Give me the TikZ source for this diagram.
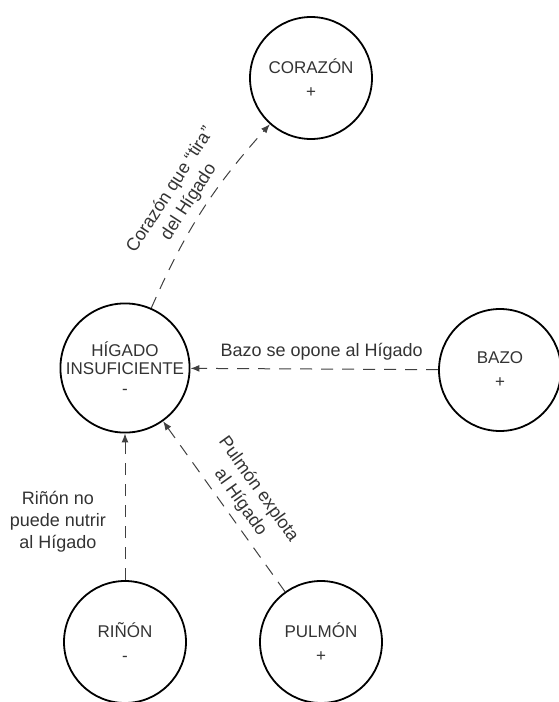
\documentclass[tikz,border=0pt]{standalone}
\usepackage{fontspec}
\setmainfont{Liberation Sans}
\usetikzlibrary{arrows.meta}

\begin{document}
\begin{tikzpicture}[
x=0.5pt, y=0.5pt,
organ/.style={
	circle, draw, line width=0.9pt,
	minimum size=61pt, inner sep=0pt,
	align=center, text=black!80,
	font=\fontsize{8.5}{9}\selectfont
},
link/.style={
	-{Latex[length=4.5pt,width=3.5pt]}, draw=black!75,
	line width=0.5pt, dash pattern=on 6pt off 4.5pt
},
rel/.style={
	text=black!80, align=center,
	font=\fontsize{9}{11}\selectfont
}
]
\useasboundingbox (0,0) rectangle (558,-702);
\node[organ] (corazon) at (311,-78) {CORAZÓN\\[3pt]+};
\node[organ] (higado) at (125,-368) {HÍGADO\\INSUFICIENTE\\[1pt]-};
\node[organ] (bazo) at (500,-370) {BAZO\\[3pt]+};
\node[organ] (rinon) at (125,-642) {RIÑÓN\\[3pt]-};
\node[organ] (pulmon) at (321,-642) {PULMÓN\\[3pt]+};
\draw[link] (higado) to[bend left=9] node[rel, sloped, above, pos=0.5] (tira) {Corazón que “tira”\\del Hígado} (corazon);
\draw[link] (bazo) -- node[rel, above=1pt, pos=0.47] (opone) {Bazo se opone al Hígado} (higado);
\draw[link] (rinon) -- node[rel, left=6pt, pos=0.4] (nutrir) {Riñón no\\puede nutrir\\al Hígado} (higado);
\draw[link] (pulmon) -- node[rel, sloped, above, pos=0.47] (explota) {Pulmón explota\\al Hígado} (higado);
\end{tikzpicture}
\end{document}
